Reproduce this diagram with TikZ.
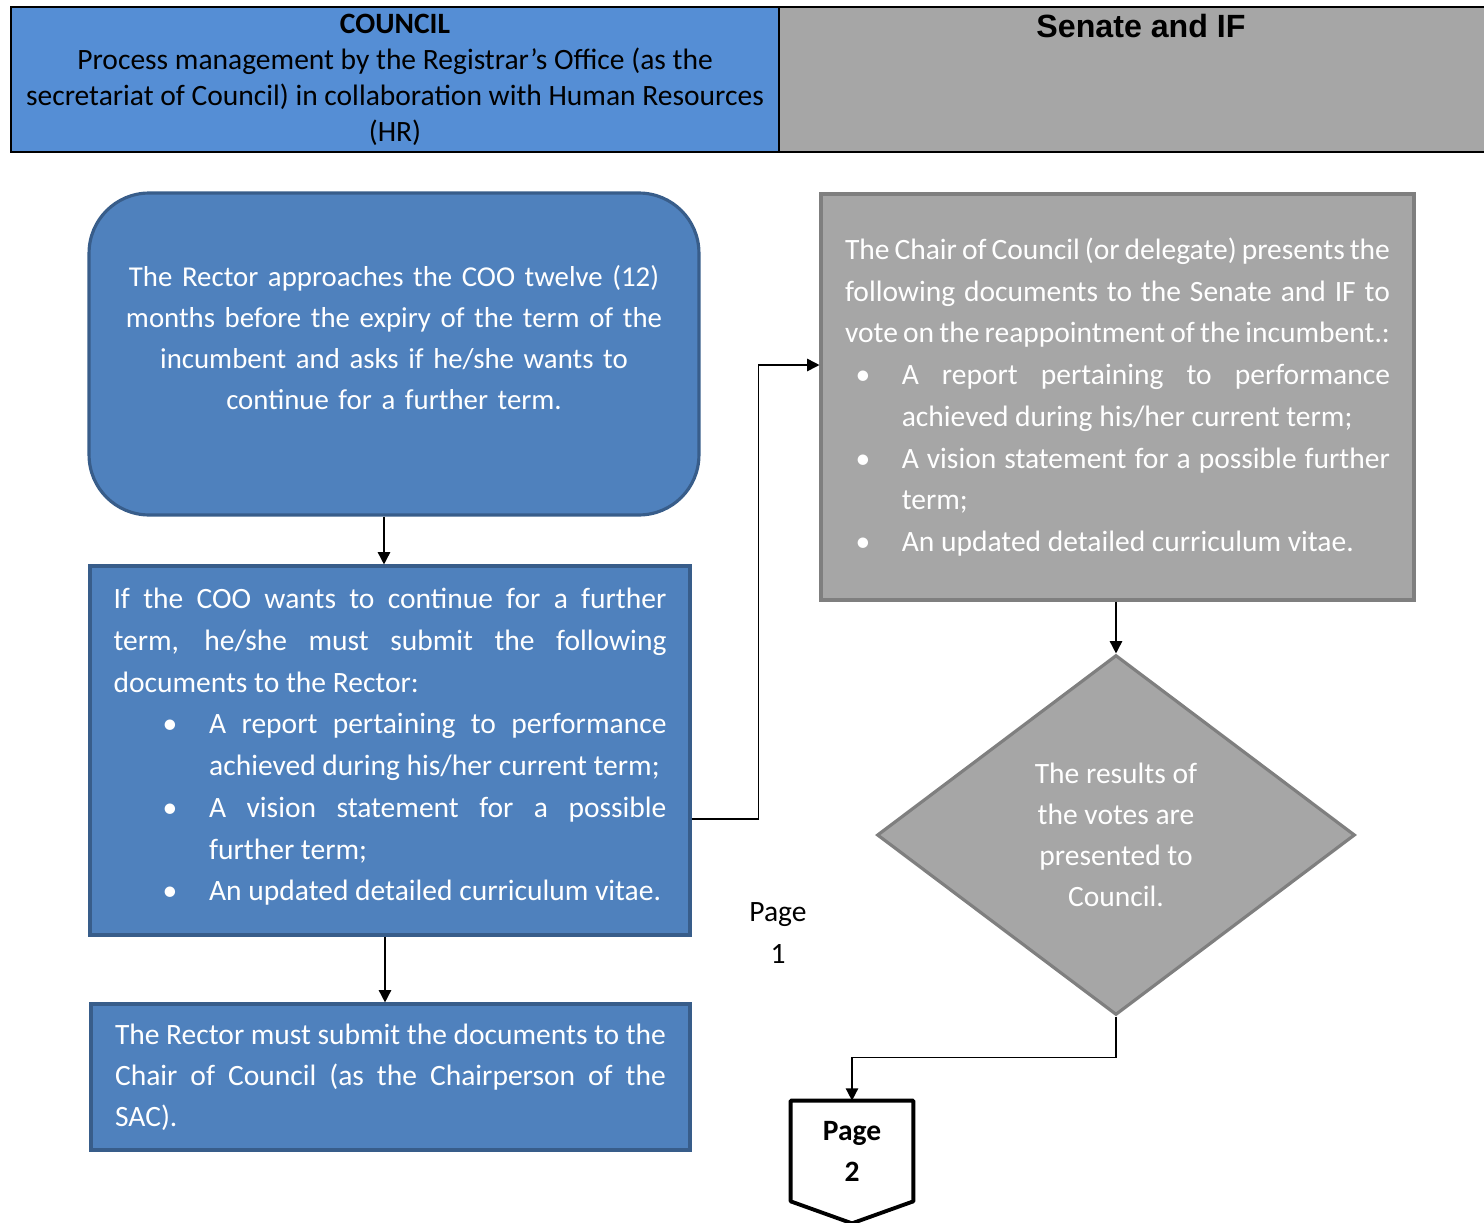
\documentclass[tikz,border=0pt]{standalone}
\usepackage{fontspec}
\setmainfont{Carlito}
\newfontfamily\arialfont{Liberation Sans}
\usetikzlibrary{arrows.meta,shapes.geometric,calc}
\definecolor{hdrblue}{HTML}{558ED5}
\definecolor{boxblue}{HTML}{4F81BD}
\definecolor{boxline}{HTML}{385D8A}
\definecolor{boxgray}{HTML}{A6A6A6}
\definecolor{grayline}{HTML}{7F7F7F}
\newcommand{\bul}[2]{\par\hangindent=#2\hangafter=1\noindent\makebox[#2][l]{\hspace*{#1}\textbullet}}
\tikzset{
  txt/.style={font=\fontsize{16.8}{23.4}\selectfont},
  listtxt/.style={font=\fontsize{16.8}{23.75}\selectfont},
  hdr/.style={draw=black, line width=1.2pt, inner sep=0pt},
  bluebox/.style={txt, draw=boxline, fill=boxblue, line width=1.8pt, text=white, inner sep=0pt},
  graybox/.style={txt, draw=grayline, fill=boxgray, line width=1.8pt, text=white, inner sep=0pt},
  link/.style={-{Triangle[length=7pt,width=7pt]}, line width=0.9pt},
}
\begin{document}
\begin{tikzpicture}[x=0.02cm, y=-0.02cm]
  \useasboundingbox (0,0) rectangle (1484,1223);
  % header
  \node[hdr, fill=boxgray, minimum width=14.22cm, minimum height=2.9cm] (senate) at (1134.5,79.5) {};
  \node[hdr, fill=hdrblue, minimum width=15.36cm, minimum height=2.9cm, align=center,
        font=\fontsize{16.8}{20.5}\selectfont] (council) at (395,79.5)
    {\textbf{COUNCIL}\\Process management by the Registrar’s Office (as the\\
     secretariat of Council) in collaboration with Human Resources\\(HR)};
  \node[font=\arialfont\bfseries\fontsize{18.3}{20}\selectfont] (senatetitle) at (1141,26) {Senate and IF};
  % left column
  \node[bluebox, rounded corners=1.2cm, minimum width=12.2cm, minimum height=6.44cm,
        text width=11.2cm, align=center, font=\fontsize{16.4}{23.4}\selectfont] (rector) at (394,354)
    {The Rector approaches the COO twelve (12)\\ months before the expiry of the term of the\\
     incumbent and asks if he/she wants to\\ continue for a further term.\par\vspace*{19pt}};
  \node[bluebox, listtxt, minimum width=12cm, minimum height=7.38cm, text width=11.06cm,
        align=justify] (coo) at (390,750.5)
    {If the COO wants to continue for a further\linebreak term, he/she must submit the following\linebreak
     documents to the Rector:
     \bul{28pt}{54.4pt}A report pertaining to performance\linebreak achieved during his/her current term;
     \bul{28pt}{54.4pt}A vision statement for a possible\linebreak further term;
     \bul{28pt}{54.4pt}An updated detailed curriculum vitae.\par\vspace*{4pt}};
  \node[bluebox, minimum width=11.98cm, minimum height=2.92cm, text width=11.02cm,
        align=justify] (sac) at (390.5,1077)
    {The Rector must submit the documents to the\linebreak Chair of Council (as the Chairperson of the\linebreak SAC).};
  % right column
  \node[graybox, listtxt, minimum width=11.86cm, minimum height=8.12cm, text width=10.9cm,
        align=justify] (chair) at (1117.5,397)
    {The Chair of Council (or delegate) presents the\linebreak following documents to the Senate and IF to\linebreak
     vote on the reappointment of the incumbent.:
     \bul{6pt}{32.3pt}A report pertaining to performance\linebreak achieved during his/her current term;
     \bul{6pt}{32.3pt}A vision statement for a possible further\linebreak term;
     \bul{6pt}{32.3pt}An updated detailed curriculum vitae.};
  \node[graybox, diamond, minimum width=9.56cm, minimum height=7.2cm, aspect=1.33,
        align=center] (votes) at (1116,835)
    {The results of\\ the votes are\\ presented to\\ Council.};
  \node[txt, align=center, font=\fontsize{16.8}{23.8}\selectfont] (page1) at (778,933) {Page\\1};
  \node[txt, align=center, font=\bfseries\fontsize{16.8}{23.3}\selectfont,
        minimum width=2.44cm, minimum height=2cm, inner sep=0pt] (page2) at (852,1151) {Page\\2};
  \draw[line width=2.2pt, line join=round]
    (page2.north west) -- (page2.north east) -- (page2.south east)
    -- ($(page2.south)+(0,-0.44cm)$) -- (page2.south west) -- cycle;
  % connectors
  \begin{scope}[link]
    \draw ([xshift=-0.2cm]rector.south) -- ([xshift=-0.2cm]rector.south |- coo.north);
    \draw ([yshift=-1.37cm]coo.east) -- ++(1.34cm,0) |- ([yshift=0.64cm]chair.west);
    \draw ([xshift=-0.1cm]coo.south) -- ([xshift=-0.1cm]coo.south |- sac.north);
    \draw (votes.north |- chair.south) -- (votes.north);
    \draw (votes.south) -- ++(0,-0.82cm) -| (page2.north);
  \end{scope}
\end{tikzpicture}
\end{document}
